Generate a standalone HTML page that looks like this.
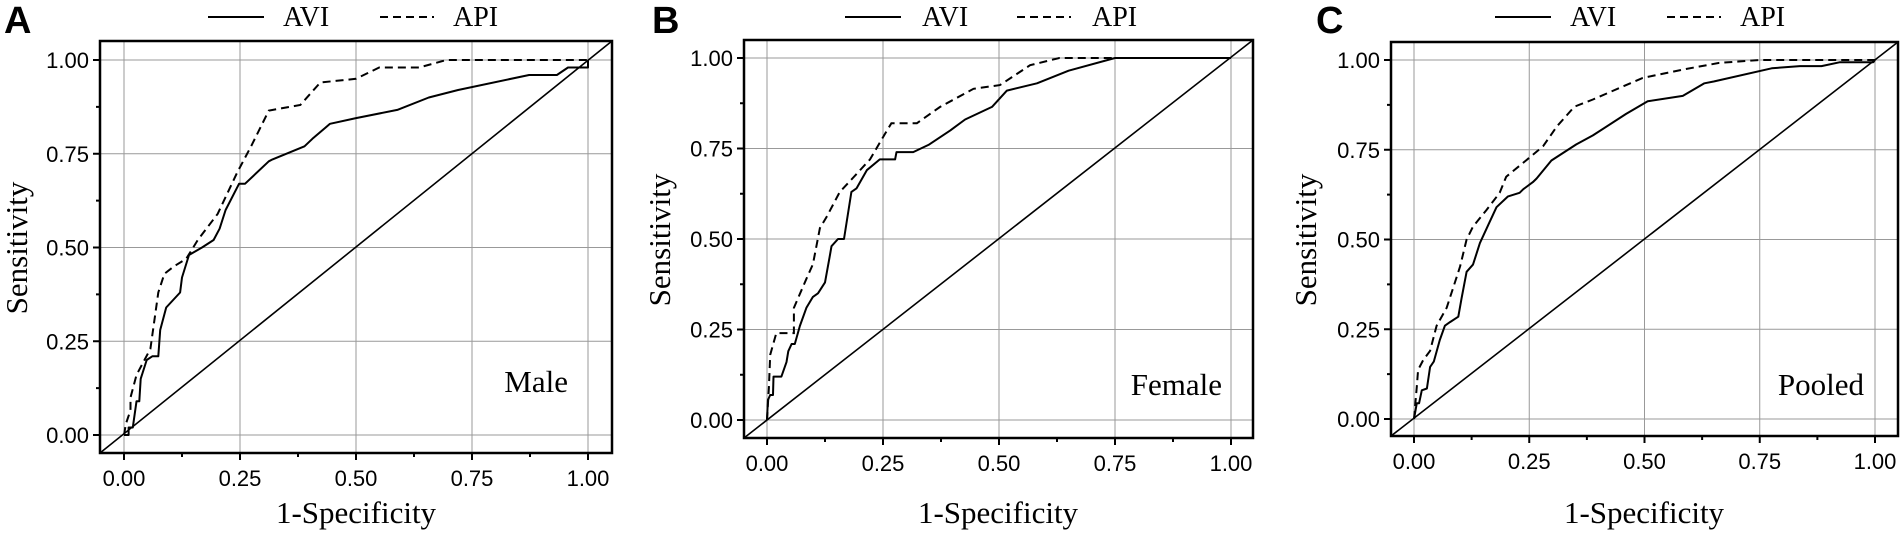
<!DOCTYPE html>
<html><head><meta charset="utf-8"><style>
html,body{margin:0;padding:0;background:#fff;}
svg{display:block;}
.tk{font-family:"Liberation Sans",Arial,sans-serif;font-size:22px;fill:#000;}
.tm{font-family:"Liberation Serif","Times New Roman",serif;fill:#000;}
.pl{font-family:"Liberation Sans",Arial,sans-serif;font-weight:bold;font-size:38px;fill:#000;}
</style></head><body>
<svg id="s" width="1900" height="540" viewBox="0 0 1900 540" xmlns="http://www.w3.org/2000/svg">
<g id="g"></g>
<text class="pl" x="4" y="33">A</text>
<text class="pl" x="652" y="33">B</text>
<text class="pl" x="1316" y="33">C</text>
<text class="tm" font-size="28" x="283" y="26">AVI</text>
<text class="tm" font-size="28" x="453" y="26">API</text>
<text class="tm" font-size="28" x="922" y="26">AVI</text>
<text class="tm" font-size="28" x="1092" y="26">API</text>
<text class="tm" font-size="28" x="1570" y="26">AVI</text>
<text class="tm" font-size="28" x="1740" y="26">API</text>
<text class="tm" font-size="31" text-anchor="middle" transform="translate(27,248) rotate(-90)">Sensitivity</text>
<text class="tm" font-size="31" text-anchor="middle" transform="translate(670,240) rotate(-90)">Sensitivity</text>
<text class="tm" font-size="31" text-anchor="middle" transform="translate(1316,240) rotate(-90)">Sensitivity</text>
<text class="tm" font-size="31" text-anchor="middle" x="356" y="523">1-Specificity</text>
<text class="tm" font-size="31" text-anchor="middle" x="998" y="523">1-Specificity</text>
<text class="tm" font-size="31" text-anchor="middle" x="1644" y="523">1-Specificity</text>
<text class="tm" font-size="31" text-anchor="end" x="568" y="392">Male</text>
<text class="tm" font-size="31" text-anchor="end" x="1222" y="395">Female</text>
<text class="tm" font-size="31" text-anchor="end" x="1864" y="395">Pooled</text>
<g id="t"></g>
</svg>
<script>
var P=[
{x0:124,x1:588,y0:435,y1:60,bl:100,br:612,bt:41,bb:453,lx:208,
avi:[[0,0],[.01,0],[.01,.02],[.019,.02],[.027,.09],[.033,.09],[.036,.15],[.049,.2],[.061,.21],[.074,.21],[.078,.28],[.091,.34],[.121,.38],[.125,.42],[.14,.48],[.168,.5],[.193,.52],[.206,.55],[.219,.6],[.248,.67],[.261,.67],[.312,.73],[.32,.735],[.389,.77],[.406,.79],[.444,.83],[.5,.845],[.589,.867],[.657,.9],[.72,.92],[.873,.96],[.933,.96],[.957,.98],[1,.98],[1,1]],
api:[[0,0],[.004,.03],[.014,.066],[.014,.1],[.027,.16],[.057,.23],[.074,.38],[.087,.43],[.108,.45],[.134,.47],[.159,.52],[.202,.59],[.244,.7],[.274,.77],[.312,.865],[.38,.88],[.423,.94],[.5,.95],[.55,.98],[.636,.98],[.695,1],[1,1]]},
{x0:767,x1:1231,y0:420,y1:58,bl:744,br:1253,bt:40,bb:438,lx:845,
avi:[[0,0],[.002,.055],[.007,.069],[.013,.069],[.014,.12],[.031,.12],[.042,.16],[.046,.19],[.053,.21],[.06,.21],[.071,.26],[.085,.31],[.099,.34],[.11,.35],[.125,.38],[.135,.45],[.139,.48],[.153,.5],[.166,.5],[.182,.63],[.193,.64],[.215,.69],[.243,.72],[.276,.72],[.279,.74],[.315,.74],[.348,.76],[.395,.8],[.427,.83],[.485,.865],[.517,.91],[.582,.93],[.65,.965],[.75,1],[1,1]],
api:[[0,0],[.004,.09],[.007,.18],[.02,.24],[.058,.24],[.058,.31],[.085,.39],[.099,.43],[.114,.53],[.128,.56],[.157,.63],[.186,.67],[.222,.72],[.254,.79],[.268,.82],[.323,.82],[.373,.865],[.445,.915],[.502,.925],[.567,.98],[.63,1],[1,1]]},
{x0:1414,x1:1875,y0:419,y1:60,bl:1391,br:1898,bt:42,bb:436,lx:1495,
avi:[[0,0],[.006,.044],[.011,.044],[.017,.08],[.028,.085],[.035,.145],[.043,.16],[.056,.22],[.067,.26],[.078,.27],[.096,.285],[.103,.335],[.114,.41],[.128,.43],[.143,.49],[.161,.54],[.179,.59],[.204,.62],[.229,.63],[.237,.64],[.258,.66],[.266,.67],[.298,.72],[.316,.735],[.352,.765],[.388,.79],[.46,.85],[.507,.885],[.583,.9],[.63,.935],[.65,.94],[.776,.977],[.837,.983],[.884,.983],[.924,.994],[.996,.994],[1,1]],
api:[[0,0],[.006,.09],[.009,.137],[.02,.164],[.035,.19],[.049,.26],[.071,.31],[.1,.425],[.114,.5],[.128,.536],[.157,.582],[.186,.63],[.2,.675],[.243,.72],[.28,.76],[.31,.815],[.348,.87],[.388,.89],[.496,.95],[.59,.975],[.662,.992],[.75,1],[1,1]]}
];
var h='',t='';
P.forEach(function(p){
 function X(v){return p.x0+v*(p.x1-p.x0);} function Y(v){return p.y0+v*(p.y1-p.y0);}
 for(var i=0;i<=4;i++){var v=i/4,x=X(v),y=Y(v);
  h+='<line x1="'+x+'" y1="'+p.bt+'" x2="'+x+'" y2="'+p.bb+'" stroke="#999" stroke-width="1"/>';
  h+='<line x1="'+p.bl+'" y1="'+y+'" x2="'+p.br+'" y2="'+y+'" stroke="#999" stroke-width="1"/>';
  h+='<line x1="'+x+'" y1="'+p.bb+'" x2="'+x+'" y2="'+(p.bb+7)+'" stroke="#000" stroke-width="2"/>';
  h+='<line x1="'+(p.bl-7)+'" y1="'+y+'" x2="'+p.bl+'" y2="'+y+'" stroke="#000" stroke-width="2"/>';
  t+='<text class="tk" text-anchor="middle" x="'+x+'" y="'+(p.bb+33)+'">'+v.toFixed(2)+'</text>';
  t+='<text class="tk" text-anchor="end" x="'+(p.bl-11)+'" y="'+(y+8)+'">'+v.toFixed(2)+'</text>';
  if(i<4){var m=(i+.5)/4;
   h+='<line x1="'+X(m)+'" y1="'+p.bb+'" x2="'+X(m)+'" y2="'+(p.bb+4)+'" stroke="#000" stroke-width="2"/>';
   h+='<line x1="'+(p.bl-4)+'" y1="'+Y(m)+'" x2="'+p.bl+'" y2="'+Y(m)+'" stroke="#000" stroke-width="2"/>';}
 }
 h+='<line x1="'+p.bl+'" y1="'+p.bb+'" x2="'+p.br+'" y2="'+p.bt+'" stroke="#000" stroke-width="1.6"/>';
 function pts(a){return a.map(function(q){return X(q[0]).toFixed(1)+','+Y(q[1]).toFixed(1);}).join(' ');}
 h+='<polyline fill="none" stroke="#000" stroke-width="2" stroke-linejoin="round" points="'+pts(p.avi)+'"/>';
 h+='<polyline fill="none" stroke="#000" stroke-width="2" stroke-dasharray="8,5" points="'+pts(p.api)+'"/>';
 h+='<rect x="'+p.bl+'" y="'+p.bt+'" width="'+(p.br-p.bl)+'" height="'+(p.bb-p.bt)+'" fill="none" stroke="#000" stroke-width="2.5"/>';
 h+='<line x1="'+p.lx+'" y1="17" x2="'+(p.lx+56)+'" y2="17" stroke="#000" stroke-width="2"/>';
 h+='<line x1="'+(p.lx+172)+'" y1="17" x2="'+(p.lx+226)+'" y2="17" stroke="#000" stroke-width="2" stroke-dasharray="8,5"/>';
});
document.getElementById('g').innerHTML=h;
document.getElementById('t').innerHTML=t;
</script>
</body></html>
